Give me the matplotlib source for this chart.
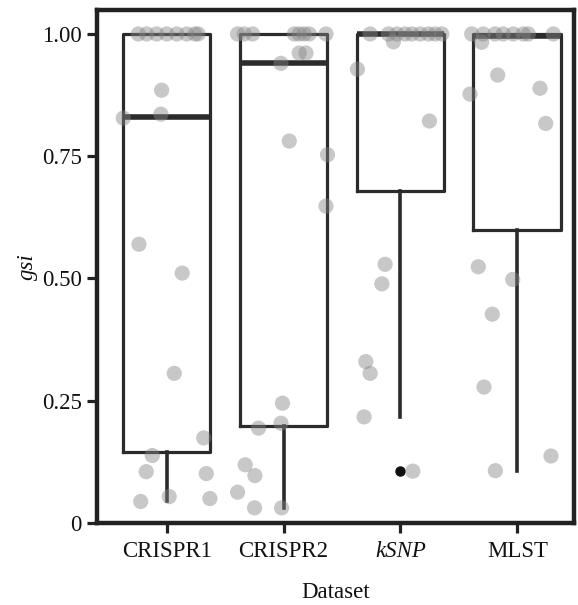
import matplotlib
matplotlib.use('Agg')
import matplotlib.pyplot as plt

categories = ["CRISPR1", "CRISPR2", "kSNP", "MLST"]

crispr1_gsi = [1.00, 1.00, 1.00, 1.00, 1.00, 1.00, 1.00, 1.00, 0.885, 0.836, 0.828,
               0.570, 0.511, 0.306, 0.174, 0.138, 0.105, 0.101, 0.044, 0.054, 0.050]
crispr1_jit = [-0.243, -0.171, -0.086, 0.000, 0.086, 0.171, 0.242, 0.270, -0.043, -0.049, -0.371,
               -0.237, 0.133, 0.065, 0.317, -0.123, -0.175, 0.339, -0.222, 0.022, 0.370]

crispr2_gsi = [1.00, 1.00, 1.00, 1.00, 1.00, 1.00, 1.00, 1.00, 0.961, 0.961, 0.940,
               0.781, 0.753, 0.648, 0.245, 0.204, 0.194, 0.119, 0.097, 0.063, 0.031, 0.031]
crispr2_jit = [-0.393, -0.336, -0.265, 0.092, 0.134, 0.177, 0.220, 0.363, 0.134, 0.192, -0.022,
               0.049, 0.376, 0.363, -0.009, -0.022, -0.214, -0.328, -0.245, -0.393, -0.248, -0.017]

ksnp_gsi = [1.00, 1.00, 1.00, 1.00, 1.00, 1.00, 1.00, 1.00, 1.00, 0.984, 0.928,
            0.822, 0.529, 0.489, 0.330, 0.306, 0.217, 0.106]
ksnp_jit = [-0.259, -0.103, -0.031, 0.040, 0.098, 0.169, 0.240, 0.297, 0.354, -0.060, -0.368,
            0.248, -0.131, -0.159, -0.296, -0.259, -0.311, 0.106]

mlst_gsi = [1.00, 1.00, 1.00, 1.00, 1.00, 1.00, 1.00, 1.00, 0.983, 0.916, 0.889,
            0.877, 0.817, 0.524, 0.498, 0.427, 0.278, 0.137, 0.107]
mlst_jit = [-0.390, -0.291, -0.191, -0.120, -0.034, 0.051, 0.094, 0.308, -0.305, -0.168, 0.194,
            -0.405, 0.243, -0.334, -0.039, -0.214, -0.285, 0.288, -0.188]

box_q1 = [0.146, 0.199, 0.678, 0.599]
box_med = [0.831, 0.940, 1.000, 0.996]
box_q3 = [1.000, 1.000, 1.000, 1.000]
whisk_lo = [0.044, 0.031, 0.217, 0.107]
whisk_hi = [1.000, 1.000, 1.000, 1.000]
outliers = [[], [], [0.106], []]

y_ticks = [0, 0.25, 0.50, 0.75, 1.00]
y_ticklabels = ["0", "0.25", "0.50", "0.75", "1.00"]

plt.rcParams['font.family'] = ['Liberation Serif', 'DejaVu Serif']

fig = plt.figure(figsize=(5.78, 6.05), dpi=100)
ax = fig.add_axes([97/578, 1 - 523/605, (574 - 97)/578, (523 - 10)/605])

dark = '#2b2b2b'
stats = []
for i, c in enumerate(categories):
    stats.append(dict(label=c, q1=box_q1[i], med=box_med[i], q3=box_q3[i],
                      whislo=whisk_lo[i], whishi=whisk_hi[i], fliers=outliers[i]))

ax.bxp(stats, positions=[1, 2, 3, 4], widths=0.75, showcaps=False, patch_artist=False,
       boxprops=dict(color=dark, linewidth=2.3),
       whiskerprops=dict(color=dark, linewidth=2.6),
       medianprops=dict(color=dark, linewidth=4.0, solid_capstyle='butt'),
       flierprops=dict(marker='o', markerfacecolor='#111111', markeredgecolor='#111111',
                       markersize=6.5),
       manage_ticks=False, zorder=2)

groups = [(crispr1_gsi, crispr1_jit), (crispr2_gsi, crispr2_jit),
          (ksnp_gsi, ksnp_jit), (mlst_gsi, mlst_jit)]
for i, (ys, js) in enumerate(groups):
    xs = [i + 1 + j for j in js]
    ax.scatter(xs, ys, s=120, color='#858585', alpha=0.45, edgecolors='none', zorder=3)

ax.set_xlim(0.404, 4.485)
ax.set_ylim(0, 1.049)
ax.set_xticks([1, 2, 3, 4])
ax.set_xticklabels(categories)
ax.get_xticklabels()[2].set_style('italic')
ax.set_yticks(y_ticks)
ax.set_yticklabels(y_ticklabels)

for sp in ax.spines.values():
    sp.set_linewidth(3.2)
    sp.set_color('#222222')

ax.tick_params(axis='both', length=7, width=2.3, color='#222222',
               labelsize=16.5, labelcolor='#111111', pad=4)
ax.tick_params(axis='x', pad=6)

ax.set_xlabel('Dataset', fontsize=16.5, color='#111111')
ax.set_ylabel('gsi', fontsize=16.5, style='italic', color='#111111')
ax.xaxis.set_label_coords(0.5, (523 - 593) / 513)
ax.xaxis.label.set_va('center')
ax.yaxis.set_label_coords((27 - 97) / 477, 0.5)
ax.yaxis.label.set_va('center')

fig.savefig('out.png', dpi=100)
